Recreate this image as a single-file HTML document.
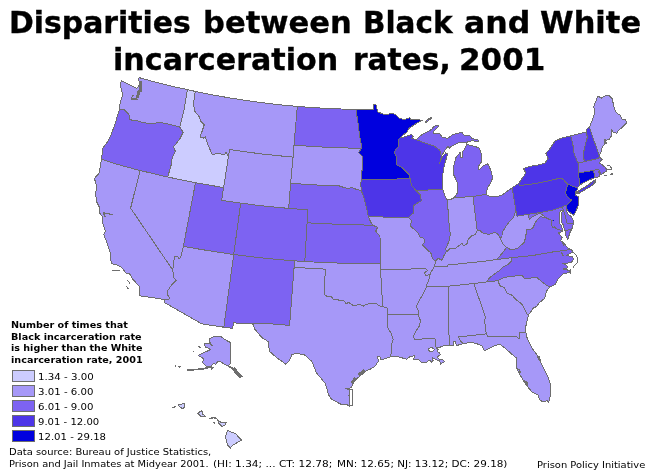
<!DOCTYPE html>
<html><head><meta charset="utf-8"><title>Disparities between Black and White incarceration rates, 2001</title>
<style>
html,body{margin:0;padding:0;background:#fff}
#c{position:relative;width:650px;height:475px;overflow:hidden;background:#fff;font-family:"DejaVu Sans","Liberation Sans",sans-serif;color:#000}
.t{position:absolute;white-space:nowrap;font-weight:bold;font-size:30px;line-height:36px;transform-origin:0 0;-webkit-text-stroke:0.35px #000}
.lt{position:absolute;white-space:nowrap;font-weight:bold;font-size:9px;line-height:12px;transform-origin:0 0}
.ll{position:absolute;white-space:nowrap;font-size:9.5px;line-height:12px;transform-origin:0 0}
.ft{position:absolute;white-space:nowrap;font-size:9.5px;line-height:12px;transform-origin:0 0}
.sw{position:absolute;left:12px;width:21px;height:10px;border:1px solid #6e6e6e}
</style></head><body><div id="c">
<svg width="650" height="475" viewBox="0 0 650 475" style="position:absolute;left:0;top:0">
<g stroke="#6e6e6e" stroke-width="1" stroke-linejoin="round" shape-rendering="crispEdges">
<path fill="#a698f8" d="M120,109.2 119.7,106.9 120.3,100.8 121.9,99.5 122.2,92.2 120.3,86 121.2,80.5 130.8,85.4 136.6,88.4 138.4,86.5 139.6,83.5 138.8,80 139.1,77.6 151,80.9 162.9,84 174.9,86.9 187.4,89.6 183.9,110.8 179.7,127.1 167.7,123.9 161.5,122.7 149.2,123.4 143.1,122.7 139.4,121.2 132.3,120.3 129.5,119.2 128.9,114.3 124.6,110Z"/>
<path fill="#7d63f2" d="M101.5,159.2 102.3,153 103.1,147.7 107.7,141.5 110.8,135.4 115.4,123.1 118.5,111.8 120,109.2 124.6,110 128.9,114.3 129.5,119.2 132.3,120.3 139.4,121.2 143.1,122.7 149.2,123.4 161.5,122.7 167.7,123.9 179.7,127.1 183.1,132.3 180,138.5 173.6,146.9 175.4,151.5 172.3,157.7 170.8,166.9 167.6,177 140.1,170.5 127.2,167.1 114.3,163.5Z"/>
<path fill="#a698f8" d="M140,295.8 139.2,286.2 132.7,279.2 129.6,273.8 125.8,273.1 121.9,267.7 116.5,264.6 111.2,263.8 110.4,253.1 106.5,241.5 103.8,234.6 105.5,230.8 104.3,228 102.5,222 102.3,216.5 99.2,212.3 100,208.5 96.9,202.3 95.4,193.8 96.9,186.9 94.4,178.5 99.2,173.1 101.5,159.2 114.3,163.5 127.2,167.1 140.1,170.5 130.6,208.1 172.7,270 173.7,278 176.2,280.5 171.5,285 167.7,290.8 167.4,294.6 169.5,297.4 168.9,299.2 164.6,299.5Z"/>
<path fill="#a698f8" d="M140.1,170.5 167.6,177 195.5,182.7 183.4,246.3 180.6,257.7 178.8,258.5 177.3,256.2 174.5,256.5 173.6,263 172.7,270 130.6,208.1Z"/>
<path fill="#ccccff" d="M187.4,89.6 195.2,91.4 193.5,103.1 194.6,110.8 199.2,116.9 200.8,121.5 204.3,124.6 202.3,130.8 200,136.9 203.1,138.2 205.4,136.9 206.5,141 208.5,146.2 212.3,154.6 217.7,153.5 224.6,154.6 226.2,152.3 228.5,156.2 223.6,187.6 195.5,182.7 167.6,177 170.8,166.9 172.3,157.7 175.4,151.5 173.6,146.9 180,138.5 183.1,132.3 179.7,127.1 183.9,110.8Z"/>
<path fill="#a698f8" d="M195.2,91.4 212.1,94.8 229,97.8 246,100.5 263,102.8 280.1,104.8 297.3,106.4 294,145.1 293.1,157.1 277.2,155.6 261.3,153.9 245.4,151.8 229.6,149.5 228.5,156.2 226.2,152.3 224.6,154.6 217.7,153.5 212.3,154.6 208.5,146.2 206.5,141 205.4,136.9 203.1,138.2 200,136.9 202.3,130.8 204.3,124.6 200.8,121.5 199.2,116.9 194.6,110.8 193.5,103.1Z"/>
<path fill="#a698f8" d="M228.5,156.2 229.6,149.5 245.4,151.8 261.3,153.9 277.2,155.6 293.1,157.1 290.6,183.3 288.7,208.4 272.7,206.9 256.7,205.2 240.7,203.1 221.6,200.3 223.6,187.6Z"/>
<path fill="#7d63f2" d="M195.5,182.7 223.6,187.6 221.6,200.3 240.7,203.1 233.7,254.5 216.9,252 200.1,249.3 183.4,246.3Z"/>
<path fill="#7d63f2" d="M240.7,203.1 256.7,205.2 272.7,206.9 288.7,208.4 308,209.8 307.1,222.8 304.8,261.5 295,260.9 274.5,259.2 254.1,257 233.7,254.5Z"/>
<path fill="#a698f8" d="M183.4,246.3 200.1,249.3 216.9,252 233.7,254.5 223.8,327.2 201.9,323.9 164.6,302.6 164.6,299.5 168.9,299.2 169.5,297.4 167.4,294.6 167.7,290.8 171.5,285 176.2,280.5 173.7,278 172.7,270 173.6,263 174.5,256.5 177.3,256.2 178.8,258.5 180.6,257.7Z"/>
<path fill="#7d63f2" d="M233.7,254.5 254.1,257 274.5,259.2 295,260.9 294.1,267.3 289.6,325.4 276.8,324.3 264,323.2 250.6,323.6 233.4,322.9 232.8,328.3 223.8,327.2Z"/>
<path fill="#7d63f2" d="M297.3,106.4 311.9,107.5 326.6,108.4 341.2,109 355.9,109.3 358.1,123.5 359.6,135.8 361.6,146.5 361.3,148.5 344.5,147.9 327.7,147.3 310.8,146.4 294,145.1Z"/>
<path fill="#a698f8" d="M294,145.1 310.8,146.4 327.7,147.3 344.5,147.9 361.3,148.5 358.8,152.7 362.2,156.5 361.9,179.4 360.6,183.1 361.5,190.9 357.3,189.6 351.2,187.5 348.8,188.8 345,187.8 338.8,185.8 329.9,185.7 316.9,185 303.9,184.2 290.6,183.3 293.1,157.1Z"/>
<path fill="#7d63f2" d="M290.6,183.3 303.9,184.2 316.9,185 329.9,185.7 338.8,185.8 345,187.8 348.8,188.8 351.2,187.5 357.3,189.6 361.5,190.9 364.6,200 366.9,209.2 368.5,216.9 370.8,222.3 373.3,225.5 356.6,224.6 340.1,224.3 323.6,223.7 307.1,222.8 308,209.8 288.7,208.4Z"/>
<path fill="#7d63f2" d="M307.1,222.8 323.6,223.7 340.1,224.3 356.6,224.6 373.3,225.5 377.7,227.3 375.6,231.2 380,236.5 380.4,263.4 361.5,263.5 342.6,263.2 323.7,262.6 304.8,261.5Z"/>
<path fill="#a698f8" d="M304.8,261.5 323.7,262.6 342.6,263.2 361.5,263.5 380.4,263.4 380.5,269.9 382.2,297.9 382.4,306.6 379,305.8 376.2,303.4 372,303.2 366.2,304.3 363.1,306.2 359.2,304.3 353.8,305.8 348.5,302.3 346.2,303.8 343.8,300.8 333.1,299.2 331.5,296.6 327.7,296.9 324.2,294.2 325.3,269.1 314.9,268.6 304.5,268 294.1,267.3 295,260.9Z"/>
<path fill="#a698f8" d="M294.1,267.3 304.5,268 314.9,268.6 325.3,269.1 324.2,294.2 327.7,296.9 331.5,296.6 333.1,299.2 343.8,300.8 346.2,303.8 348.5,302.3 353.8,305.8 359.2,304.3 363.1,306.2 366.2,304.3 372,303.2 376.2,303.4 379,305.8 382.4,306.6 387,307.6 387.3,314.9 387.5,327.5 391.2,333.2 393.1,339.3 391.4,345.4 391.5,351 390.4,356.9 385.8,358.5 381.2,360 379.6,356.2 377.3,356.9 378.6,361 377.1,363.2 374.5,366.8 370.8,368.9 365.5,371.1 363.4,373.2 360.3,375.8 357.1,378.4 354.5,381.1 352.4,385.3 351.3,387.9 345.5,388.4 349.2,389.5 349,396 349.7,406.2 346.9,404.6 340.8,404.2 331.5,399.2 328.5,394.6 325.4,383.8 320,376.9 316.5,373.1 311.9,361.5 304.2,354.6 295.8,353.5 291.9,354.6 289.6,360.3 285.8,364.3 275.8,356.9 269.6,351.5 268.1,341.5 261.9,337.7 254.2,328.5 253.5,324.6 250.6,323.6 264,323.2 276.8,324.3 289.6,325.4Z"/>
<path fill="#0000de" d="M355.9,109.3 373.4,109.6 373.4,104.2 376.2,105 377.7,111.9 385.4,115 390.8,113.5 395.4,114.2 399.2,118.1 403.8,119.6 410,117.8 410.8,119.6 417.7,119.6 422.3,120.4 416.2,123.5 409.2,128.1 406.9,132.2 403,135 400.4,137.9 398.9,138.8 398.9,146.5 395.4,149.6 394.6,152.7 396.2,156.5 396.2,164.4 402.3,167.7 409.2,174.6 410,178.5 394.7,179.1 378.5,179.4 361.9,179.4 362.2,156.5 358.8,152.7 361.3,148.5 361.6,146.5 359.6,135.8 358.1,123.5Z"/>
<path fill="#4d35e8" d="M361.9,179.4 378.5,179.4 394.7,179.1 410,178.5 411.5,185.4 416.2,190.8 420.8,195.4 421.1,200.8 413.8,205.4 413.4,213.1 408.5,217.2 368.5,216.9 366.9,209.2 364.6,200 361.5,190.9 360.6,183.1Z"/>
<path fill="#a698f8" d="M368.5,216.9 408.5,217.2 411.5,220.8 410.5,226 417.7,232.7 420,237.3 423.8,238.1 424.6,241.9 422.3,245 426.9,249.6 430.8,252.7 432.3,258.1 435.4,261.2 434.6,266.3 431.5,271.2 430,274.5 425.4,275.5 424.6,272.7 427.7,270.4 425.4,268.4 396.2,269.6 380.5,269.9 380.4,263.4 380,236.5 375.6,231.2 377.7,227.3 373.3,225.5 370.8,222.3Z"/>
<path fill="#a698f8" d="M380.5,269.9 396.2,269.6 425.4,268.4 427.7,270.4 424.6,272.7 425.4,275.5 430,274.5 428.5,281.2 426.2,285 426.7,286.5 422.7,295 419.6,299.6 416.5,306.5 418.8,311.9 418.1,314.3 387.3,314.9 387,307.6 382.4,306.6 382.2,297.9Z"/>
<path fill="#a698f8" d="M387.3,314.9 418.1,314.3 420.4,320.5 419.6,325.8 415.8,331.2 413.5,336.5 414.5,339.2 435,338.7 435,344.3 436.4,347.6 438.1,349.7 437.3,351.4 439.8,353.1 440.2,354.8 437.5,356.9 438.5,359 442.7,359.2 444.4,361.9 441.1,363.6 440.6,364.9 439.8,361.1 436,359.4 433.5,358.6 432.2,357.3 433.1,360.3 431.8,362.8 430.1,360.3 428.4,360.7 425.9,362.8 421.9,362.6 418.8,360 413.5,359.2 415,355.8 410.4,356.2 406.5,359.2 398.8,356.9 390.4,356.9 391.5,351 391.4,345.4 393.1,339.3 391.2,333.2 387.5,327.5Z"/>
<path fill="#4d35e8" d="M400.4,137.9 404.5,136.9 408.5,135.6 411.5,134.2 413.1,136.5 412,138.5 416.2,139.6 423.8,142.7 434.2,146.2 439.6,150 441.5,156.2 440.9,158.4 439.7,163.1 440.4,161.3 442.6,156.5 445.8,152.8 447.5,153.6 446.8,157 444.2,165.4 442.7,174.6 442,181 442.8,189 416.2,190.8 411.5,185.4 410,178.5 409.2,174.6 402.3,167.7 396.2,164.4 396.2,156.5 394.6,152.7 395.4,149.6 398.9,146.5 398.9,138.8Z"/>
<path fill="#7d63f2" d="M416.2,190.8 442.8,189 445,196.2 447.3,200.1 449.4,228 450.4,234.2 448.8,241.9 445.9,248.1 446.1,252.2 444.2,255 441.9,260.2 438.1,258.3 435.4,261.2 432.3,258.1 430.8,252.7 426.9,249.6 422.3,245 424.6,241.9 423.8,238.1 420,237.3 417.7,232.7 410.5,226 411.5,220.8 408.5,217.2 413.4,213.1 413.8,205.4 421.1,200.8 420.8,195.4Z"/>
<path fill="#7d63f2" d="M416.2,139.6 420,135.8 425,133.1 431.5,129.5 433,127.3 435.7,125.8 438.3,125.2 438.5,126.6 433.5,131.5 433.5,133.4 439.6,133.1 441.9,136.9 447.3,138.5 452.7,134.6 461.9,132.3 464.2,135.4 469.6,135.4 471.9,138.5 478.1,140 478.1,141.5 472.7,140.8 468.1,141.5 466.5,143.1 459.6,142.3 455,144.6 450.4,146.9 449.6,148.5 448.1,146.2 445,150 441.5,156.2 439.6,150 434.2,146.2 423.8,142.7Z"/>
<path fill="#7d63f2" d="M454.2,197.7 457.3,193.1 457.8,183.8 455.8,179.2 453.5,174.6 453.5,166.9 455.9,157.6 460.1,152.5 460.9,153 460.9,157.8 462.5,157.8 462.9,151.1 464.7,149.3 465.6,146.5 466.8,144.6 471.2,145.4 478.8,147.7 481.9,154.6 481.2,162.3 478.1,166.9 478.8,170 483.5,165.4 488.1,163.8 491.2,171.5 492.7,177.7 490.4,183.8 488.1,186.9 485.8,194.3 472.9,196.5Z"/>
<path fill="#a698f8" d="M447.3,200.1 450.5,199.5 454.2,197.7 472.9,196.5 477.2,230.3 475.5,234.5 471.9,235.8 468.1,239.6 467.3,243.5 463.5,245.8 461.9,243.5 458.8,245.8 455,248.8 450.4,248.1 446.1,252.2 445.9,248.1 448.8,241.9 450.4,234.2 449.4,228Z"/>
<path fill="#7d63f2" d="M485.8,194.3 490.4,196.5 496.5,196.9 502.7,194.6 512.2,187.7 515.8,210 513.5,217.7 508.8,222.3 505.2,227.5 502.7,231.9 502.5,235.5 500.4,238.4 497.7,234 494.6,232.4 488.8,234.6 482.7,232.9 479.6,230.2 477.2,230.3 472.9,196.5Z"/>
<path fill="#a698f8" d="M446.1,252.2 450.4,248.1 455,248.8 458.8,245.8 461.9,243.5 463.5,245.8 467.3,243.5 468.1,239.6 471.9,235.8 475.5,234.5 477.2,230.3 479.6,230.2 482.7,232.9 488.8,234.6 494.6,232.4 497.7,234 500.4,238.4 502.7,243.5 506.5,247.3 502.7,252.7 498.1,258.1 496.5,259.6 481.2,261.6 462.7,263.5 447.6,265 447.4,266.6 434.6,266.3 435.4,261.2 438.1,258.3 441.9,260.2 444.2,255Z"/>
<path fill="#a698f8" d="M434.6,266.3 447.4,266.6 447.6,265 462.7,263.5 481.2,261.6 496.5,259.6 511.9,257.6 511.2,261.2 507.3,265 502.7,267.3 499.6,270.4 494.2,274.2 491.2,276.5 488.1,279.6 487.3,281.9 473.8,283.5 448.6,286.2 426.7,286.5 426.2,285 428.5,281.2 430,274.5 431.5,271.2Z"/>
<path fill="#a698f8" d="M426.7,286.5 448.6,286.2 448.1,321.2 449.7,345.8 445.3,345.5 441.1,346.4 440.2,347.6 436.4,347.6 435,344.3 435,338.7 414.5,339.2 413.5,336.5 415.8,331.2 419.6,325.8 420.4,320.5 418.1,314.3 418.8,311.9 416.5,306.5 419.6,299.6 422.7,295Z"/>
<path fill="#a698f8" d="M448.6,286.2 473.8,283.5 485.4,316.9 484.6,320.8 486.3,333.9 458.5,337 460.8,341.5 463.1,343.8 458.5,345 456.2,345.5 455.6,341.5 454,341.2 453.6,345.8 449.7,345.8 448.1,321.2Z"/>
<path fill="#a698f8" d="M473.8,283.5 487.3,281.9 498.1,280.7 499.4,284.6 500.4,286 504.6,287.8 506.9,292.9 512,295.2 516.7,300.3 521.8,304 524.5,309.1 526.9,314.2 528.7,314.6 527.8,317.4 527,321.1 526.3,324.6 525,328.3 525.9,332.5 519.4,332.5 519.9,338.1 518.1,338.1 516.2,336.2 499.4,336.6 487.8,337 486.3,333.9 484.6,320.8 485.4,316.9Z"/>
<path fill="#a698f8" d="M486.3,333.9 487.8,337 499.4,336.6 516.2,336.2 518.1,338.1 519.9,338.1 519.4,332.5 525.9,332.5 526.4,336.2 529.6,343.1 532.4,348.7 537,354.7 540.5,361.5 542,365.2 547.7,376.2 550.5,384.6 550.8,393.8 549.5,399.2 548.5,402.3 547.7,400.8 542.3,401.5 540,400 537.7,394.6 532.3,392.3 527.7,386.9 523.8,381.5 520.8,376.2 516.9,368.5 516.2,357.7 512.3,354.6 505.4,348.5 500,344.3 495.4,345.4 489.2,348.5 484.6,350.8 481.5,345.4 476.9,343.8 470.8,342.3 463.1,343.8 460.8,341.5 458.5,337Z"/>
<path fill="#a698f8" d="M498.1,280.7 502.7,278.1 508.8,276.5 518.1,275.8 522.5,276 524.8,279 535.2,277.3 537,277.7 544.4,283.8 549.6,287 547.3,289.8 545.8,293.8 544.8,298.2 542.1,300.5 538.9,303 537,306.3 533.3,308.1 531,311.4 528.7,314.6 526.9,314.2 524.5,309.1 521.8,304 516.7,300.3 512,295.2 506.9,292.9 504.6,287.8 500.4,286 499.4,284.6Z"/>
<path fill="#7d63f2" d="M511.9,257.6 532.2,255.6 551.8,252.1 571.3,249.4 572.6,252 569.5,253.6 566.8,255.2 569.5,256.4 572.7,256 573.2,259.4 571.9,261.9 567.7,263 562.5,263.4 566.8,265.3 568.1,267.8 563,269 568.9,270.3 569.8,272.6 563.5,273.6 557.7,279.6 555.4,284.2 549.6,287 544.4,283.8 537,277.7 535.2,277.3 524.8,279 522.5,276 518.1,275.8 508.8,276.5 502.7,278.1 498.1,280.7 487.3,281.9 488.1,279.6 491.2,276.5 494.2,274.2 499.6,270.4 502.7,267.3 507.3,265 511.2,261.2Z"/>
<path fill="#7d63f2" d="M545,217.3 548.9,219.2 552.1,220.5 551.5,224.1 552.3,227.6 554.9,226.9 556.3,228.7 559.5,229.6 562.8,231.5 558.5,233 562.3,237.7 560.8,240.8 564.6,243.8 567.7,248 571.3,249.4 551.8,252.1 532.2,255.6 511.9,257.6 496.5,259.6 498.1,258.1 502.7,252.7 506.5,247.3 510.4,249.6 513.5,249.7 517.7,248.1 521.5,244.8 524.3,242.5 525.6,237 526.9,229.2 529.2,230 533.1,227.7 535.4,222.3 538.5,218.3 540.6,216.8Z"/>
<path fill="#7d63f2" d="M572,228.7 570.2,231.9 568.8,236.1 567.9,239.8 566.3,237 565,231Z"/>
<path fill="#a698f8" d="M515.8,210 517,216.2 528.3,214.2 529.2,219.4 533.1,216.4 539.4,213.3 543.3,215.5 545,217.3 540.6,216.8 538.5,218.3 535.4,222.3 533.1,227.7 529.2,230 526.9,229.2 525.6,237 524.3,242.5 521.5,244.8 517.7,248.1 513.5,249.7 510.4,249.6 506.5,247.3 502.7,243.5 500.4,238.4 502.5,235.5 502.7,231.9 505.2,227.5 508.8,222.3 513.5,217.7Z"/>
<path fill="#7d63f2" d="M528.3,214.2 539.9,212.6 551.7,210.3 562.3,206.9 564.8,214.6 567,223.1 573.3,223.6 573.4,224.1 572,228.7 565,231 564,228 563,224.5 561.2,222 561,218 561.6,213.5 562.2,210.8 560.6,210.6 559.8,213 559.1,218.5 559.5,223.1 561.5,226 562.3,228.7 562.8,231.5 559.5,229.6 556.3,228.7 554.9,226.9 552.3,227.6 551.5,224.1 552.1,220.5 548.9,219.2 545,217.3 543.3,215.5 539.4,213.3 533.1,216.4 529.2,219.4Z"/>
<path fill="#7d63f2" d="M562.3,206.9 564.3,205.6 566,205.8 566.2,209.8 567.8,213.8 571.2,216.7 573,219.6 573.3,223.6 567,223.1 564.8,214.6Z"/>
<path fill="#4d35e8" d="M512.2,187.7 518.6,183.5 519.6,185.6 534.1,183.7 547.9,181 560.5,178.1 563.3,179.4 565.5,182 567.6,184.3 566.3,189.7 565.6,193.4 567.4,196.4 571.4,200 568.8,203.4 566,205.8 564.3,205.6 562.3,206.9 551.7,210.3 539.9,212.6 528.3,214.2 517,216.2 515.8,210Z"/>
<path fill="#0000de" d="M567.6,184.3 577.5,187.8 577.3,189.5 575.5,192.7 575.8,195.3 578,196.4 578.6,200.8 578.4,204.5 577.3,207.6 575.8,212 573.4,215.2 570.6,213.2 567.2,210.2 566,205.8 568.8,203.4 571.4,200 567.4,196.4 565.6,193.4 566.3,189.7Z"/>
<path fill="#4d35e8" d="M518.6,183.5 522.7,177.7 525.8,173.1 523.5,168.5 530.4,166.2 538.1,165.1 545,163.1 548.1,158.5 545.8,153.8 551.2,146.9 555,140.8 562.7,137.7 570.7,135.9 573.3,146.7 574.1,154 578.1,163.1 578.4,173.1 579.5,182.4 579.9,184.8 578.5,186.8 577.5,187.8 567.6,184.3 565.5,182 563.3,179.4 560.5,178.1 547.9,181 534.1,183.7 519.6,185.6Z"/>
<path fill="#0000de" d="M578.4,173.1 593.5,170.3 594.7,177.7 590.2,179.6 584.3,182.5 579.9,184.8 579.5,182.4Z"/>
<path fill="#7d63f2" d="M593.5,170.3 598.8,169.2 600.4,174.6 599,176.5 597,177.6 594.7,177.7Z"/>
<path fill="#7d63f2" d="M578.1,163.1 584.2,161.7 598.1,158.5 599,157 600.8,158.1 602.3,159.6 600.5,161 599.4,163.6 601.9,164.4 603.4,165.8 605.6,167.7 606.8,170 606.4,171.8 604.9,172.1 602.7,173.6 600.4,174.6 598.8,169.2 593.5,170.3 578.4,173.1Z"/>
<path fill="#7d63f2" d="M570.7,135.9 586.5,131.9 587.3,137.5 585,145.6 583.5,153.1 584.2,161.7 578.1,163.1 574.1,154 573.3,146.7Z"/>
<path fill="#4d35e8" d="M586.5,131.9 587.2,128.2 589.3,127.3 594.8,143 599.2,155.2 599,157 598.1,158.5 584.2,161.7 583.5,153.1 585,145.6 587.3,137.5Z"/>
<path fill="#a698f8" d="M589.3,127.3 592.3,120.4 594.6,112.7 593.8,106.5 596.2,100.4 597.7,96.1 601.5,98.1 606.2,95 609.2,95.8 612.3,98.8 613.8,106.5 616.2,112.7 620,115 622.3,119.6 625.4,119.6 626.9,122.7 623.1,126.5 617.7,131.2 616.9,133.5 613.1,131.9 611.5,129.6 611.5,135.8 609.2,139.6 605.4,140.4 604.6,144.2 602.3,146.5 600.8,152.7 599.2,155.2 594.8,143Z"/>
<path fill="#7d63f2" d="M425.3,121.8 427.5,119.6 431.3,117.2 431.7,118 428.6,120.6 425.8,122.6Z"/>
<path fill="#4d35e8" d="M578,191.3 582.1,188.5 588.7,184.8 592,181.8 596,179.2 593.5,182.4 596,181.6 593.1,184.6 589.5,187.2 584.3,190.1 578.6,193.6Z"/>
<path fill="#a698f8" d="M209.4,338.9 213.6,336.8 220.6,336.4 226.1,340.3 231,342.8 230.3,363.9 228.2,366 224.7,364.6 220.6,361.8 217.8,361.1 215.7,364.6 213.6,363.2 210.8,366.7 206.7,366.7 202.5,362.5 203.9,359 201.1,356.9 198.3,355.6 201.8,353.5 206.7,351.4 210.8,349.3 208.1,347.9 205.3,347.9 204.6,343.8 209.4,343.8 212.2,345.8 209.4,341.7Z"/>
<path fill="#ccccff" d="M178.9,404.7 184.4,403.6 184.4,407.5 182.4,408.6 178.9,406.1Z"/>
<path fill="#ccccff" d="M197.6,413.1 201.8,410.6 202.5,413.8 205.3,416.5 200.4,416.1Z"/>
<path fill="#ccccff" d="M217.8,419.7 220.6,422.1 226.1,422.8 225.4,424.9 221.9,426.3 218.5,422.8Z"/>
<path fill="#ccccff" d="M227.5,430.4 235.8,433.9 241.4,440.1 233.1,445 230.3,448.1 227.5,445 225.4,436.7Z"/>
</g>
<g fill="none" stroke="#6e6e6e" stroke-linecap="butt" shape-rendering="crispEdges">
<path stroke-width="3.0" d="M140.3,81.5 140.8,92"/>
<path stroke-width="3.0" d="M139.2,90 137.2,98"/>
<path stroke-width="2.2" d="M137.5,98.9 131,99.4"/>
<path stroke-width="1.2" d="M133.2,95 131.5,98"/>
<path stroke-width="2.0" d="M562,241 564.3,245.5"/>
<path stroke-width="2.2" d="M604.3,139.5 606.3,143.8"/>
<path stroke-width="1.0" d="M605.6,168 607.1,169.9 611.2,169.5 611.2,167.7 610,165.8 608.6,165.1 607.1,165.5"/>
<path stroke-width="1.2" d="M604.5,175.2 607.1,175.4"/>
<path stroke-width="2.0" d="M599.3,170.8 599.8,174.6"/>
<path stroke-width="2.4" d="M575.6,191 577.8,193.8"/>
<path stroke-width="1.0" d="M571.3,249.4 573.6,252.6 576.1,255.2 577.6,258.5 577.4,262.7 574.4,265.3 573.2,267.4"/>
<path stroke-width="1.0" d="M570.2,269.1 570,274.3"/>
<path stroke-width="2.4" d="M364.3,370.2 358.5,374.8"/>
<path stroke-width="2.4" d="M355.6,377.6 351.6,383.4"/>
<path stroke-width="1.0" d="M349,389.5 352.3,389.5 352.3,405.3 349.7,406.2"/>
<path stroke-width="1.6" d="M517,368.6 519.3,370 520.3,373"/>
<path stroke-width="1.6" d="M524,381 527,382.3 527.8,385.5"/>
<path stroke-width="2.4" d="M538.2,356.5 540,360.2"/>
<path stroke-width="1.6" d="M561.2,252.2 563.5,256.5"/>
<path stroke-width="1.6" d="M210.8,366.7 203.9,368.8 194.2,369.7 187.2,369.7"/>
<path stroke-width="1.5" d="M174.7,365.3 176,366"/>
<path stroke-width="1.5" d="M178,366.7 180.5,366.9"/>
<path stroke-width="2.0" d="M210.8,368.8 213.6,367.2"/>
<path stroke-width="1.8" d="M228.2,366 233,368.3"/>
<path stroke-width="3.6" d="M233,368.3 241.5,377.5"/>
<path stroke-width="1.4" d="M198.5,346 201,347.9"/>
<path stroke-width="1.2" d="M193.3,351 193.6,352"/>
<path stroke-width="1.5" d="M172.6,408.2 175.4,406.3"/>
<path stroke-width="1.5" d="M209.6,418.8 213,417.6 217.1,418.6"/>
<path stroke-width="1.6" d="M213,422.3 214.8,423.3"/>
<path stroke-width="1.2" d="M112.4,270.5 119.6,270.8"/>
<path stroke-width="1.2" d="M127.3,280 130.2,283.6"/>
<path stroke-width="1.2" d="M126.2,286.2 128.6,289"/>
<path stroke-width="1.6" d="M103.3,212.5 105.4,217.5"/>
<path stroke-width="1.2" d="M104,213 113.1,214.6"/>
<path stroke-width="1.3" d="M610.4,174.3 613.4,173.7"/>
</g>
<ellipse cx="431.3" cy="349.6" rx="2.8" ry="1.8" fill="#fff" stroke="#6e6e6e" stroke-width="1" shape-rendering="crispEdges"/>
<rect x="553" y="220" width="1" height="1" fill="#0000de" shape-rendering="crispEdges"/>
</svg>
<div class="t" id="t1a" style="font-size:30.8px;line-height:36.96px;left:9.18px;top:4.12px;transform:scaleX(0.9698)">Disparities</div>
<div class="t" id="t1b" style="font-size:30.8px;line-height:36.96px;left:202.97px;top:4.12px;transform:scaleX(0.9931)">between</div>
<div class="t" id="t1c" style="font-size:30.8px;line-height:36.96px;left:362.81px;top:4.12px;transform:scaleX(0.9584)">Black</div>
<div class="t" id="t1d" style="font-size:30.8px;line-height:36.96px;left:464.22px;top:4.12px;transform:scaleX(1.0254)">and</div>
<div class="t" id="t1e" style="font-size:30.8px;line-height:36.96px;left:539.91px;top:4.12px;transform:scaleX(0.9905)">White</div>
<div class="t" id="t2a" style="font-size:30.8px;line-height:36.96px;left:112.80px;top:41.32px;transform:scaleX(0.9785)">incarceration</div>
<div class="t" id="t2b" style="font-size:30.8px;line-height:36.96px;left:352.60px;top:41.32px;transform:scaleX(0.9609)">rates,</div>
<div class="t" id="t2c" style="font-size:30.8px;line-height:36.96px;left:459.43px;top:41.32px;transform:scaleX(1.0068)">2001</div>
<div class="lt" id="l1" style="font-size:9.3px;line-height:11.16px;left:10.77px;top:318.77px;transform:scaleX(1.0371)">Number of times that</div>
<div class="lt" id="l2" style="font-size:9.3px;line-height:11.16px;left:10.77px;top:330.77px;transform:scaleX(1.0382)">Black incarceration rate</div>
<div class="lt" id="l3" style="font-size:9.3px;line-height:11.16px;left:11.03px;top:341.77px;transform:scaleX(1.0284)">is higher than the White</div>
<div class="lt" id="l4" style="font-size:9.3px;line-height:11.16px;left:11.03px;top:353.77px;transform:scaleX(1.0366)">incarceration rate, 2001</div>
<div class="ll" id="k1" style="font-size:9.4px;line-height:11.28px;left:37.82px;top:370.66px;transform:scaleX(1.0915)">1.34 - 3.00</div>
<div class="ll" id="k2" style="font-size:9.4px;line-height:11.28px;left:37.59px;top:385.66px;transform:scaleX(1.0860)">3.01 - 6.00</div>
<div class="ll" id="k3" style="font-size:9.4px;line-height:11.28px;left:37.59px;top:400.66px;transform:scaleX(1.0860)">6.01 - 9.00</div>
<div class="ll" id="k4" style="font-size:9.4px;line-height:11.28px;left:38.10px;top:415.66px;transform:scaleX(1.0736)">9.01 - 12.00</div>
<div class="ll" id="k5" style="font-size:9.4px;line-height:11.28px;left:37.83px;top:430.66px;transform:scaleX(1.0797)">12.01 - 29.18</div>
<div class="ft" id="f1" style="font-size:9.2px;line-height:11.04px;left:9.14px;top:445.88px;transform:scaleX(1.0823)">Data source: Bureau of Justice Statistics,</div>
<div class="ft" id="f2a" style="font-size:9.2px;line-height:11.04px;left:9.15px;top:457.88px;transform:scaleX(1.0745)">Prison and Jail Inmates at Midyear 2001.</div>
<div class="ft" id="f2b" style="font-size:9.2px;line-height:11.04px;left:213.01px;top:457.88px;transform:scaleX(1.1487)">(HI: 1.34; ... CT: 12.78;</div>
<div class="ft" id="f2c" style="font-size:9.2px;line-height:11.04px;left:336.69px;top:457.88px;transform:scaleX(1.1329)">MN: 12.65; NJ: 13.12; DC: 29.18)</div>
<div class="ft" id="f3" style="font-size:9.2px;line-height:11.04px;left:536.94px;top:458.88px;transform:scaleX(1.0796)">Prison Policy Initiative</div>
<div class="sw" style="top:370px;background:#ccccff"></div>
<div class="sw" style="top:385px;background:#a698f8"></div>
<div class="sw" style="top:400px;background:#7d63f2"></div>
<div class="sw" style="top:415px;background:#4d35e8"></div>
<div class="sw" style="top:430px;background:#0000de"></div>
</div></body></html>
